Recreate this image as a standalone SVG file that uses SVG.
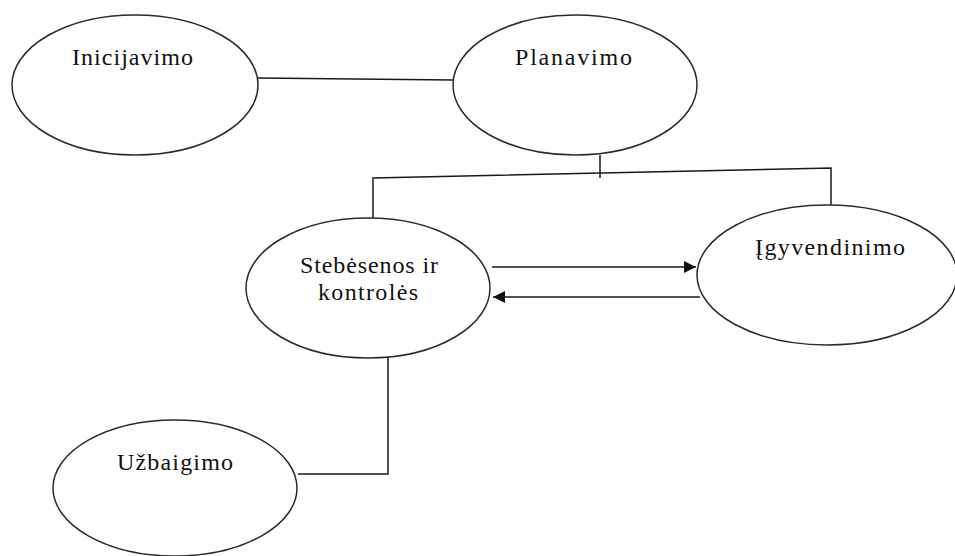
<svg xmlns="http://www.w3.org/2000/svg" width="955" height="556" viewBox="0 0 955 556">
<style>
.node ellipse{fill:#fff;stroke:#2a2a2a;stroke-width:1.5}
.node text{font-family:"Liberation Serif","Times New Roman",serif;font-size:24px;fill:#111}
.conn path,.conn line{fill:none;stroke:#1a1a1a;stroke-width:1.5}
</style>
<defs>
<marker id="ah" viewBox="0 0 12 12" refX="12" refY="6" markerWidth="12" markerHeight="12" markerUnits="userSpaceOnUse" orient="auto">
<path d="M0,0 L12,6 L0,12 Z" fill="#111"/>
</marker>
</defs>
<rect width="955" height="556" fill="#fff"/>
<g class="conn">
<line x1="258" y1="78" x2="453" y2="80"/>
<line x1="600" y1="155" x2="600" y2="178"/>
<path d="M373,220 L373,178 L831,168 L831,205"/>
<line x1="492" y1="267" x2="696" y2="267" marker-end="url(#ah)"/>
<line x1="700" y1="297" x2="493" y2="297" marker-end="url(#ah)"/>
<path d="M388,357 L388,474 L298,474"/>
</g>
<g class="node" id="inicijavimo">
<ellipse cx="135" cy="85" rx="123" ry="70"/>
<text x="72" y="65" textLength="121" lengthAdjust="spacing">Inicijavimo</text>
</g>
<g class="node" id="planavimo">
<ellipse cx="575" cy="85" rx="122" ry="70"/>
<text x="515" y="65" textLength="117" lengthAdjust="spacing">Planavimo</text>
</g>
<g class="node" id="stebesenos">
<ellipse cx="368" cy="288" rx="122" ry="70"/>
<text x="300" y="273" textLength="138" lengthAdjust="spacing">Stebėsenos ir</text>
<text x="318" y="300" textLength="100" lengthAdjust="spacing">kontrolės</text>
</g>
<g class="node" id="igyvendinimo">
<ellipse cx="827" cy="275" rx="130" ry="70"/>
<text x="755" y="255" textLength="150" lengthAdjust="spacing">Įgyvendinimo</text>
</g>
<g class="node" id="uzbaigimo">
<ellipse cx="175" cy="488" rx="122" ry="68"/>
<text x="117" y="470" textLength="116" lengthAdjust="spacing">Užbaigimo</text>
</g>
</svg>
